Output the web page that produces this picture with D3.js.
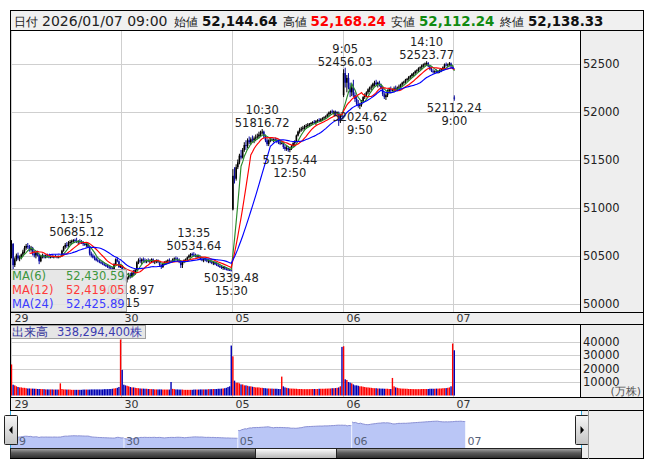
<!DOCTYPE html>
<html><head><meta charset="utf-8">
<script src="https://cdn.jsdelivr.net/npm/d3@7"></script>
<style>body{margin:0;background:#fff}svg{display:block}text{font-family:"DejaVu Sans",sans-serif}</style>
</head><body><svg id="c" width="653" height="470"></svg>
<script>
// ---------------- data ----------------
const days = ["29","30","05","06","07"];
const barsPerDay = 68;
const ohlc29 = [[50500,50660,50470,50620],[50620,50630,50350,50400],[50400,50480,50380,50460],[50460,50520,50440,50500],[50500,50530,50450,50470],[50470,50500,50440,50480],[50480,50520,50460,50510],[50510,50560,50490,50540],[50540,50600,50520,50580],[50580,50620,50560,50600],
[50600,50630,50570,50590],[50590,50610,50540,50560],[50560,50600,50540,50580],[50580,50590,50500,50520],[50520,50550,50480,50500],[50500,50540,50470,50530],[50530,50550,50490,50510],[50510,50520,50410,50440],[50440,50500,50430,50490],[50490,50520,50470,50500],
[50500,50510,50470,50480],[50480,50510,50470,50500],[50500,50520,50480,50490],[50490,50510,50470,50485],[50485,50500,50470,50490],[50490,50505,50475,50480],[50480,50500,50470,50495],[50495,50510,50480,50490],[50490,50500,50470,50480],[50480,50500,50470,50490],
[50490,50500,50480,50495],[50495,50560,50490,50550],[50550,50600,50540,50590],[50590,50630,50570,50610],[50610,50640,50580,50600],[50600,50650,50590,50630],[50630,50660,50610,50640],[50640,50665,50620,50650],[50650,50670,50630,50660],[50660,50675,50640,50650],
[50650,50685.12,50630,50640],[50640,50660,50620,50650],[50650,50670,50630,50640],[50640,50660,50620,50630],[50630,50650,50600,50620],[50620,50640,50600,50610],[50610,50630,50590,50620],[50620,50630,50580,50590],[50590,50600,50500,50520],[50520,50540,50480,50500],
[50500,50520,50470,50480],[50480,50500,50450,50470],[50470,50490,50440,50450],[50450,50470,50430,50440],[50440,50460,50420,50430],[50430,50450,50410,50420],[50420,50440,50400,50410],[50410,50430,50390,50400],[50400,50420,50380,50390],[50390,50410,50370,50385],
[50385,50400,50360,50375],[50375,50390,50350,50365],[50365,50380,50340,50360],[50360,50420,50350,50410],[50410,50470,50400,50460],[50460,50480,50430,50440],[50440,50450,50370,50380],[50380,50400,50370,50390]];
const ohlc30 = [[50390,50400,50280,50300],[50300,50330,50240,50260],[50260,50290,50230,50250],[50250,50280,50218.97,50270],[50270,50320,50250,50300],[50300,50320,50260,50280],[50280,50330,50270,50320],[50320,50350,50290,50310],[50310,50360,50300,50350],[50350,50440,50340,50430],
[50430,50470,50410,50450],[50450,50480,50420,50440],[50440,50470,50410,50460],[50460,50480,50430,50450],[50450,50470,50420,50440],[50440,50460,50420,50450],[50450,50470,50430,50440],[50440,50460,50420,50450],[50450,50470,50430,50460],[50460,50470,50420,50430],
[50430,50450,50410,50440],[50440,50460,50420,50450],[50450,50460,50420,50430],[50430,50440,50380,50400],[50400,50410,50360,50380],[50380,50420,50370,50410],[50410,50440,50400,50430],[50430,50450,50410,50440],[50440,50460,50420,50450],[50450,50470,50430,50445],
[50445,50450,50430,50440],[50440,50470,50430,50460],[50460,50480,50440,50470],[50470,50490,50450,50460],[50460,50480,50440,50450],[50450,50470,50420,50430],[50430,50450,50370,50400],[50400,50440,50370,50430],[50430,50460,50420,50450],[50450,50470,50430,50460],
[50460,50490,50450,50480],[50480,50510,50470,50500],[50500,50525,50480,50515],[50515,50530,50490,50510],[50510,50534.64,50490,50500],[50500,50520,50480,50490],[50490,50510,50470,50500],[50500,50510,50470,50480],[50480,50500,50450,50460],[50460,50480,50440,50450],
[50450,50470,50430,50460],[50460,50480,50440,50450],[50450,50470,50430,50440],[50440,50460,50420,50450],[50450,50460,50420,50430],[50430,50450,50410,50420],[50420,50440,50400,50430],[50430,50440,50400,50410],[50410,50430,50390,50400],[50400,50420,50380,50390],
[50390,50400,50370,50380],[50380,50400,50360,50370],[50370,50390,50350,50380],[50380,50390,50350,50360],[50360,50380,50345,50355],[50355,50370,50342,50350],[50350,50360,50341,50345],[50345,50350,50339.48,50340]];
const ohlc05 = [[50980,51400,50970,51330],[51330,51420,51250,51300],[51300,51450,51280,51420],[51420,51500,51400,51470],[51470,51560,51450,51540],[51540,51600,51500,51520],[51520,51620,51510,51600],[51600,51680,51580,51650],[51650,51700,51600,51640],[51640,51720,51620,51700],
[51700,51740,51660,51680],[51680,51730,51650,51710],[51710,51750,51680,51700],[51700,51740,51670,51720],[51720,51760,51690,51730],[51730,51770,51710,51740],[51740,51790,51720,51760],[51760,51800,51740,51780],[51780,51816.72,51760,51790],[51790,51800,51720,51740],
[51740,51760,51680,51700],[51700,51720,51640,51660],[51660,51710,51640,51700],[51700,51730,51680,51710],[51710,51730,51690,51700],[51700,51720,51680,51710],[51710,51730,51690,51700],[51700,51720,51670,51690],[51690,51710,51660,51680],[51680,51700,51650,51665],
[51665,51680,51660,51670],[51670,51680,51610,51630],[51630,51650,51590,51610],[51610,51640,51590,51620],[51620,51640,51580,51600],[51600,51620,51575.44,51610],[51610,51650,51600,51640],[51640,51680,51630,51670],[51670,51700,51650,51690],[51690,51760,51680,51750],
[51750,51800,51740,51790],[51790,51830,51770,51810],[51810,51840,51790,51820],[51820,51850,51800,51830],[51830,51860,51810,51840],[51840,51870,51820,51850],[51850,51880,51830,51860],[51860,51880,51840,51870],[51870,51890,51850,51880],[51880,51900,51860,51890],
[51890,51910,51870,51880],[51880,51910,51860,51900],[51900,51920,51880,51910],[51910,51930,51890,51900],[51900,51930,51890,51920],[51920,51940,51900,51930],[51930,51950,51910,51940],[51940,51960,51920,51950],[51950,51980,51940,51970],[51970,52000,51950,51990],
[51990,52010,51970,52000],[52000,52020,51980,51990],[51990,52010,51970,52000],[52000,52010,51960,51980],[51980,52000,51960,51990],[51990,52000,51850,51900],[51900,51970,51880,51960],[51960,51965,51940,51945]];
const ohlc06 = [[52170,52440,52150,52400],[52400,52456.03,52250,52300],[52300,52380,52200,52350],[52350,52400,52230,52250],[52250,52300,52150,52200],[52200,52280,52160,52250],[52250,52330,52150,52170],[52170,52200,52100,52130],[52130,52160,52060,52080],[52080,52120,52040,52060],
[52060,52090,52024.62,52070],[52070,52120,52050,52110],[52110,52160,52090,52150],[52150,52190,52130,52170],[52170,52210,52150,52200],[52200,52240,52180,52230],[52230,52260,52200,52250],[52250,52280,52220,52260],[52260,52300,52240,52290],[52290,52320,52260,52300],
[52300,52330,52270,52280],[52280,52310,52250,52300],[52300,52320,52260,52270],[52270,52290,52230,52240],[52240,52260,52160,52180],[52180,52200,52130,52150],[52150,52190,52120,52170],[52170,52230,52150,52210],[52210,52250,52190,52230],[52230,52260,52200,52220],
[52220,52240,52210,52230],[52230,52260,52200,52240],[52240,52270,52210,52230],[52230,52260,52210,52250],[52250,52280,52230,52260],[52260,52290,52240,52280],[52280,52310,52260,52300],[52300,52320,52280,52310],[52310,52340,52290,52330],[52330,52350,52310,52340],
[52340,52370,52320,52360],[52360,52380,52340,52370],[52370,52400,52350,52390],[52390,52410,52370,52400],[52400,52430,52380,52420],[52420,52440,52400,52430],[52430,52460,52410,52450],[52450,52470,52430,52460],[52460,52490,52440,52480],[52480,52500,52460,52490],
[52490,52510,52470,52500],[52500,52523.77,52480,52505],[52505,52515,52460,52470],[52470,52480,52430,52440],[52440,52460,52410,52420],[52420,52440,52395,52410],[52410,52430,52390,52420],[52420,52440,52400,52415],[52415,52430,52395,52420],[52420,52440,52400,52430],
[52430,52450,52410,52440],[52440,52470,52430,52460],[52460,52500,52450,52490],[52490,52510,52470,52480],[52480,52500,52460,52490],[52490,52515,52470,52500],[52500,52510,52460,52470],[52450,52470,52440,52460]];
const ohlc07 = [[52144.64,52168.24,52112.24,52138.33]];

const vol29 = [23000,8000,7500,6800,6300,6000,6000,5700,5700,5400,5200,5200,5100,5100,5000,5000,4800,4800,4800,4700,4700,4500,4500,4500,4500,4500,4400,4400,4400,4400,9000,4800,4500,4500,4400,4400,4400,4200,4200,4200,4200,4200,4200,4200,4400,4400,4400,4400,4400,4500,4500,4500,4500,4500,4500,4500,4500,4700,4700,4700,4800,4800,5000,5200,5400,5700,6300,41500];
const vol30 = [19000,8000,7500,7200,6800,6300,6000,6000,5700,5500,5400,5200,5100,5100,5000,5000,4800,4800,4700,4700,4500,4500,4500,4500,4500,4400,4400,4400,4400,4400,10000,4900,4700,4500,4500,4400,4400,4400,4200,4200,4200,4200,4200,4200,4400,4400,4400,4400,4500,4500,4500,4500,4500,4700,4700,4700,4800,4800,4800,5000,5000,5100,5200,5400,5700,6300,6800,37000];
const vol05 = [29000,11000,9500,9500,9000,8200,8200,7500,7500,7200,6800,6800,6500,6300,6000,6000,6000,5700,5700,5500,5400,5200,5200,5100,5100,5000,5000,5000,4800,4800,14000,6800,6000,5700,5400,5200,5100,5100,5000,5000,4800,4800,4800,4700,4700,4700,4700,4700,4800,4800,4800,4800,4800,5000,5000,5000,5000,5100,5100,5200,5200,5400,5400,5500,5700,6000,6800,36000];
const vol06 = [36500,12000,11500,10000,9500,9000,8200,7500,7500,7200,6800,6800,6500,6300,6000,6000,5800,5700,5500,5400,5400,5200,5200,5100,5100,5000,5000,5000,4800,4800,13000,6800,6000,5700,5400,5200,5100,5100,5000,5000,4800,4800,4800,4700,4700,4700,4700,4700,4800,4800,4800,4800,4800,5000,5000,5000,5000,5100,5100,5200,5200,5400,5400,5500,5700,6000,6800,38500];
const vol07 = [33500];

const priceTicks = [50000,50500,51000,51500,52000,52500];
const volTicks = [10000,20000,30000,40000];
const maPeriods = [6,12,24];
const maLegendValues = ["52,430.59","52,419.05","52,425.89"];
const annotations = [
  {bar:40,  time:"13:15", value:"50685.12", side:"high"},
  {bar:71,  time:"9:15",  value:"50218.97", side:"low"},
  {bar:112, time:"13:35", value:"50534.64", side:"high"},
  {bar:135, time:"15:30", value:"50339.48", side:"low"},
  {bar:154, time:"10:30", value:"51816.72", side:"high"},
  {bar:171, time:"12:50", value:"51575.44", side:"low"},
  {bar:205, time:"9:05",  value:"52456.03", side:"high"},
  {bar:214, time:"9:50",  value:"52024.62", side:"low"},
  {bar:255, time:"14:10", value:"52523.77", side:"high"},
  {bar:272, time:"9:00",  value:"52112.24", side:"low"}
];
const headerDate = "2026/01/07 09:00";
const headerLabels = ["日付","始値","高値","安値","終値"];
const headerValues = ["52,144.64","52,168.24","52,112.24","52,138.33"];
const volumeTotal = "338,294,400株";

// ---------------- build ----------------
const allBars = [].concat(ohlc29, ohlc30, ohlc05, ohlc06, ohlc07);
const allVol = [].concat(vol29, vol30, vol05, vol06, vol07);
const bars = allBars.map((d,i)=>({i, o:d[0], h:d[1], l:d[2], c:d[3], v:allVol[i]}));
const N = bars.length;

const svg = d3.select("#c");
const x = d3.scaleLinear().domain([0, N-1]).range([11.5, 454.3]);
const y = d3.scaleLinear().domain([50000, 52500]).range([303.5, 63.5]);
const vy = d3.scaleLinear().domain([0, 40000]).range([395.5, 341.5]);
const nx = d3.scaleLinear().domain([0, N-1]).range([10.5, 466]);
const ny = d3.scaleLinear().domain([50500, 52400]).range([437, 422]);

const defs = svg.append("defs");
function grad(id, stops){
  const g = defs.append("linearGradient").attr("id",id).attr("x1",0).attr("y1",0).attr("x2",0).attr("y2",1);
  stops.forEach(s=>g.append("stop").attr("offset",s[0]).attr("stop-color",s[1]));
}
grad("gScroll",[[0,"#a8a8a8"],[0.45,"#5a5a5a"],[1,"#2c2c2c"]]);
grad("gThumb",[[0,"#ffffff"],[1,"#b4b4b4"]]);
grad("gBtn",[[0,"#f6f6f6"],[1,"#c4c4c4"]]);
defs.append("clipPath").attr("id","clipP").append("rect").attr("x",11).attr("y",31).attr("width",569).attr("height",281);
defs.append("clipPath").attr("id","clipV").append("rect").attr("x",11).attr("y",325).attr("width",569).attr("height",72);

// backgrounds
const bg = svg.append("g");
bg.append("rect").attr("x",10).attr("y",10).attr("width",634).attr("height",449).attr("fill","#eeeeee");
bg.append("rect").attr("x",10).attr("y",10).attr("width",634).attr("height",20).attr("fill","#f0f0f0");
bg.append("rect").attr("x",10).attr("y",30).attr("width",570).attr("height",282).attr("fill","#fff");
bg.append("rect").attr("x",10).attr("y",324).attr("width",570).attr("height",73).attr("fill","#fff");
bg.append("rect").attr("x",10).attr("y",410).attr("width",572).attr("height",38).attr("fill","#fff");

const dayIdx = days.map((d,k)=>k*barsPerDay);
const dayLineX = k => Math.round(x(dayIdx[k]) - 1) + 0.5;

// grid
const grid = svg.append("g").attr("stroke","#cfcfcf").attr("shape-rendering","crispEdges");
priceTicks.forEach(t=>grid.append("line").attr("x1",10).attr("x2",580).attr("y1",Math.round(y(t))+0.5).attr("y2",Math.round(y(t))+0.5));
volTicks.forEach(t=>grid.append("line").attr("x1",10).attr("x2",580).attr("y1",Math.round(vy(t))+0.5).attr("y2",Math.round(vy(t))+0.5));
days.forEach((d,k)=>{
  const lx = dayLineX(k);
  grid.append("line").attr("x1",lx).attr("x2",lx).attr("y1",30).attr("y2",312);
  grid.append("line").attr("x1",lx).attr("x2",lx).attr("y1",324).attr("y2",397);
});

// candles
const cg = svg.append("g").attr("clip-path","url(#clipP)");
const upCol = "#000000", dnCol = "#0a0aa0";
cg.selectAll("line.w").data(bars).join("line")
  .attr("x1",d=>x(d.i)).attr("x2",d=>x(d.i)).attr("y1",d=>y(d.h)).attr("y2",d=>y(d.l))
  .attr("stroke",d=>d.c>=d.o?upCol:dnCol).attr("stroke-width",1);
cg.selectAll("rect.b").data(bars).join("rect")
  .attr("x",d=>x(d.i)-0.8).attr("width",1.6)
  .attr("y",d=>y(Math.max(d.o,d.c))).attr("height",d=>Math.max(1,Math.abs(y(d.o)-y(d.c))))
  .attr("fill",d=>d.c>=d.o?upCol:dnCol);

// moving averages
const closes = bars.map(b=>b.c);
const maColors = ["#2a8a2a","#ff0000","#0000ff"];
maPeriods.forEach((p,k)=>{
  const pts = [];
  for(let i=p-1;i<N;i++) pts.push([i, d3.mean(closes.slice(i-p+1,i+1))]);
  cg.append("path").datum(pts)
    .attr("d", d3.line().x(d=>x(d[0])).y(d=>y(d[1])))
    .attr("fill","none").attr("stroke",maColors[k]).attr("stroke-width",1.15);
});

// annotations
const ag = svg.append("g").attr("font-size","11.5px").attr("fill","#222").attr("text-anchor","middle");
annotations.forEach(a=>{
  const cx = x(a.bar), py = y(+a.value);
  if(a.side==="high"){
    ag.append("text").attr("x",cx).attr("y",py-15).text(a.time);
    ag.append("text").attr("x",cx).attr("y",py-2).text(a.value);
  } else {
    ag.append("text").attr("x",cx).attr("y",py+11.5).text(a.value);
    ag.append("text").attr("x",cx).attr("y",py+24.5).text(a.time);
  }
});

// MA legend
const lg = svg.append("g");
lg.append("rect").attr("x",10.5).attr("y",269.5).attr("width",116).attr("height",42).attr("fill","#e4e4e4").attr("fill-opacity",0.88).attr("stroke","#a0a0a0").attr("shape-rendering","crispEdges");
const legCols = ["#3c963c","#ff3a3a","#3c3cff"];
maPeriods.forEach((p,k)=>{
  const by = 279.5 + k*14;
  lg.append("text").attr("x",12).attr("y",by).attr("font-size","11.5px").attr("fill",legCols[k]).text(`MA(${p})`);
  lg.append("text").attr("x",66).attr("y",by).attr("font-size","11.5px").attr("fill",legCols[k]).text(maLegendValues[k]);
});

// volume bars
const vg = svg.append("g").attr("clip-path","url(#clipV)");
vg.selectAll("rect").data(bars).join("rect")
  .attr("x",d=>x(d.i)-0.7).attr("width",1.4)
  .attr("y",d=>vy(d.v)).attr("height",d=>vy(0)-vy(d.v))
  .attr("fill",d=>d.c>=d.o?"#ff0000":"#0000b4");

// volume legend
const vl = svg.append("g");
vl.append("rect").attr("x",10.5).attr("y",325.5).attr("width",135).attr("height",13).attr("fill","#e6e6e6").attr("stroke","#a0a0a0").attr("shape-rendering","crispEdges");
vl.append("text").attr("x",12).attr("y",336).attr("font-size","11.5px").attr("fill","#34349a").attr("font-family","'Noto Sans CJK JP'").text("出来高");
vl.append("text").attr("x",57).attr("y",336).attr("font-size","11.5px").attr("fill","#3c3cb0").text(volumeTotal);

// axes labels
const axg = svg.append("g").attr("font-size","11.5px").attr("fill","#222");
priceTicks.forEach(t=>axg.append("text").attr("x",583).attr("y",y(t)+4).text(t));
volTicks.forEach(t=>axg.append("text").attr("x",583).attr("y",vy(t)+4).text(t));
axg.append("text").attr("x",641).attr("y",395).attr("text-anchor","end").attr("font-size","11px").attr("fill","#555").attr("font-family","'Noto Sans CJK JP'").text("(万株)");

// date strips
const sg = svg.append("g").attr("font-size","11px").attr("fill","#333");
days.forEach((d,k)=>{
  sg.append("text").attr("x",dayLineX(k)+3).attr("y",322).text(d);
  sg.append("text").attr("x",dayLineX(k)+3).attr("y",407.5).text(d);
});

// navigator
const ng = svg.append("g");
days.forEach((d,k)=>{
  if(k===days.length-1) return;
  const seg = bars.slice(dayIdx[k], dayIdx[k+1]).map(b=>[nx(b.i), b.c]);
  seg.push([nx(dayIdx[k+1])-0.8, seg[seg.length-1][1]]);
  ng.append("path").datum(seg)
    .attr("d", d3.area().x(p=>p[0]).y0(448).y1(p=>ny(p[1])))
    .attr("fill","#bac6f6");
  ng.append("path").datum(seg)
    .attr("d", d3.line().x(p=>p[0]).y(p=>ny(p[1])))
    .attr("fill","none").attr("stroke","#8a90d4").attr("stroke-width",1);
});
days.forEach((d,k)=>{
  ng.append("text").attr("x",nx(dayIdx[k])+1.5).attr("y",444.5).attr("font-size","11px").attr("fill","#556078").text(d);
});
ng.append("line").attr("x1",10.5).attr("x2",10.5).attr("y1",410).attr("y2",448).attr("stroke","#30a8e0");
ng.append("line").attr("x1",581.5).attr("x2",581.5).attr("y1",410).attr("y2",448).attr("stroke","#30a8e0");

// scrollbar
ng.append("rect").attr("x",10.5).attr("y",448.5).attr("width",571).attr("height",10).attr("fill","url(#gScroll)").attr("stroke","#222").attr("shape-rendering","crispEdges");
ng.append("rect").attr("x",255.5).attr("y",448.5).attr("width",81).attr("height",10).attr("fill","url(#gThumb)").attr("stroke","#222").attr("shape-rendering","crispEdges");
// buttons
[[4.5,-1],[575.5,1]].forEach(([bx,dir])=>{
  ng.append("rect").attr("x",bx).attr("y",415.5).attr("width",13).attr("height",29).attr("rx",1).attr("fill","url(#gBtn)").attr("stroke","#222");
  const cx = bx+6.5, cy = 430;
  ng.append("path").attr("d", dir<0 ? `M${cx-2},${cy}L${cx+1.5},${cy-4}L${cx+1.5},${cy+4}Z` : `M${cx+2},${cy}L${cx-1.5},${cy-4}L${cx-1.5},${cy+4}Z`).attr("fill","#000");
});

// frame lines
const fr = svg.append("g").attr("stroke","#000").attr("shape-rendering","crispEdges");
[10.5,30.5,312.5,324.5,397.5,410.5].forEach(yy=>fr.append("line").attr("x1",10).attr("x2",644).attr("y1",yy).attr("y2",yy));
fr.append("line").attr("x1",10).attr("x2",644).attr("y1",458.5).attr("y2",458.5);
fr.append("line").attr("x1",10.5).attr("x2",10.5).attr("y1",10).attr("y2",410);
fr.append("line").attr("x1",643.5).attr("x2",643.5).attr("y1",10).attr("y2",459);
fr.append("line").attr("x1",580.5).attr("x2",580.5).attr("y1",30).attr("y2",312);
fr.append("line").attr("x1",580.5).attr("x2",580.5).attr("y1",324).attr("y2",397);
fr.append("line").attr("x1",588.5).attr("x2",588.5).attr("y1",410).attr("y2",459).attr("stroke","#999");

// header
const hg = svg.append("g");
const hx = [13.8,173.5,282.5,391,500];
const vx = [202,310.5,419,528];
const vcol = ["#111","#ff0000","#108a10","#111"];
headerLabels.forEach((t,k)=>hg.append("text").attr("x",hx[k]).attr("y",25.5).attr("font-size","12px").attr("fill","#222").attr("font-family","'Noto Sans CJK JP'").text(t));
hg.append("text").attr("x",42).attr("y",25.5).attr("font-size","14px").attr("fill","#222").text(headerDate);
headerValues.forEach((t,k)=>hg.append("text").attr("x",vx[k]).attr("y",25.5).attr("font-size","13.4px").attr("font-weight","bold").attr("fill",vcol[k]).text(t));
</script></body></html>
